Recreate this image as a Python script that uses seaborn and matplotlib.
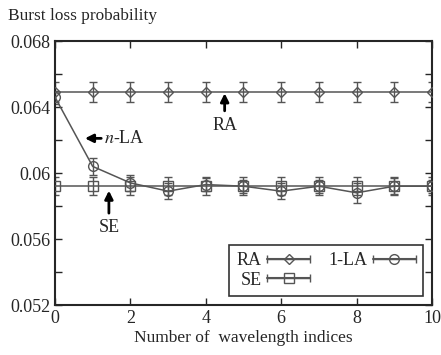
import numpy as np
import pandas as pd
import matplotlib
matplotlib.use("Agg")
import matplotlib.pyplot as plt
import seaborn as sns
from matplotlib.legend_handler import HandlerErrorbar

x = [0, 1, 2, 3, 4, 5, 6, 7, 8, 9, 10]
ra = [0.0649] * 11
ra_err = [0.0006] * 11
se = [0.0592] * 11
se_err = [0.00055] * 11
la = [0.0646, 0.0604, 0.0594, 0.0589, 0.0593, 0.0592, 0.0589, 0.0592, 0.0588, 0.0592, 0.0592]
la_err = [0.0004, 0.0005, 0.0005, 0.0005, 0.0004, 0.0004, 0.0005, 0.0004, 0.0006, 0.0005, 0.0004]

sns.set_style("ticks")
plt.rcParams['font.family'] = ['Liberation Serif', 'DejaVu Serif']
plt.rcParams['mathtext.fontset'] = 'stix'

fig = plt.figure(figsize=(4.41, 3.55), dpi=100)
ax = fig.add_axes([0.1247, 0.1408, 0.8549, 0.7437])

col = "#555555"
series = [("RA", ra, ra_err, "D", 5), ("SE", se, se_err, "s", 7), ("1-LA", la, la_err, "o", 7)]
handles = {}
for name, vals, err, mk, ms in series:
    df = pd.DataFrame({"x": x, "y": vals})
    sns.lineplot(data=df, x="x", y="y", ax=ax, color=col, lw=1.1, marker=mk, markersize=ms,
                 markerfacecolor="none", markeredgecolor=col, markeredgewidth=1.0, legend=False, zorder=3)
    ax.errorbar(x, vals, yerr=err, fmt="none", ecolor=col, elinewidth=1.0,
                capsize=3, capthick=1.0, zorder=2)
    h = ax.errorbar([np.nan], [np.nan], xerr=[0.1], fmt=mk, ms=ms, mfc="none", mec=col, mew=1.0,
                    ecolor=col, elinewidth=1.0, capsize=3, capthick=1.0, color=col, ls="-")
    handles[name] = h

ax.set_xlim(0, 10)
ax.set_ylim(0.052, 0.068)
ax.set_xticks([0, 2, 4, 6, 8, 10])
ax.set_yticks([0.052, 0.056, 0.06, 0.064, 0.068])
ax.set_yticklabels(["0.052", "0.056", "0.06", "0.064", "0.068"])
ax.set_yticks([0.054, 0.058, 0.062, 0.066], minor=True)
ax.tick_params(which="both", direction="in", top=True, right=True, labelsize=13, width=1)
ax.tick_params(which="major", length=5)
ax.tick_params(which="minor", length=5)
for s in ax.spines.values():
    s.set_linewidth(1.5)
ax.set_xlabel("Number of  wavelength indices", fontsize=12.5, labelpad=2)
ax.set_ylabel("")
fig.text(0.018, 0.945, "Burst loss probability", fontsize=12.4, ha="left", va="baseline")

ax.annotate("", xy=(0.72, 0.0621), xytext=(1.3, 0.0621),
            arrowprops=dict(arrowstyle="-|>", color="black", lw=2, mutation_scale=12))
ax.text(1.3, 0.0621, "$n$-LA", fontsize=13, ha="left", va="center")
ax.annotate("", xy=(4.5, 0.0650), xytext=(4.5, 0.0636),
            arrowprops=dict(arrowstyle="-|>", color="black", lw=2, mutation_scale=12))
ax.text(4.5, 0.0634, "RA", fontsize=13, ha="center", va="top")
ax.annotate("", xy=(1.43, 0.0591), xytext=(1.43, 0.0574),
            arrowprops=dict(arrowstyle="-|>", color="black", lw=2, mutation_scale=12))
ax.text(1.43, 0.0572, "SE", fontsize=13, ha="center", va="top")

leg = ax.legend([handles["RA"], handles["SE"], handles["1-LA"]], ["RA", "SE", "1-LA"],
                ncol=2, loc="lower right", bbox_to_anchor=(0.977, 0.034), borderaxespad=0,
                fontsize=13,
                frameon=True, fancybox=False, edgecolor="black", markerfirst=False,
                handlelength=2.4, columnspacing=1.0, handletextpad=0.3, labelspacing=0.15,
                borderpad=0.4, numpoints=1,
                handler_map={type(handles["RA"]): HandlerErrorbar(xerr_size=1.2)})
leg.get_frame().set_linewidth(1.2)

fig.savefig("out.png", dpi=100)
